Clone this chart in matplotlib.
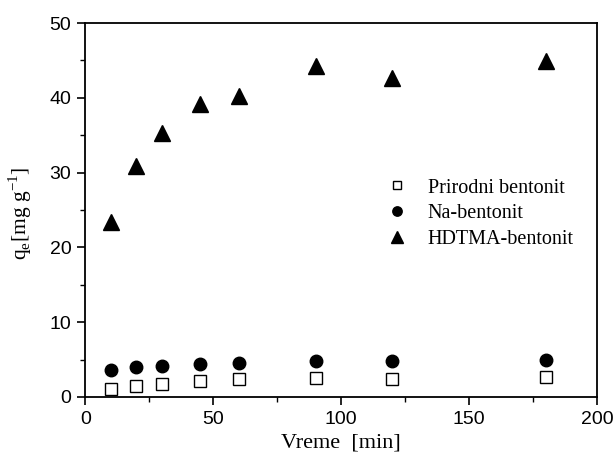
import matplotlib
matplotlib.use("Agg")
import matplotlib.pyplot as plt
from matplotlib.ticker import MultipleLocator

time_min = [10, 20, 30, 45, 60, 90, 120, 180]
prirodni = [1.0, 1.5, 1.7, 2.1, 2.4, 2.5, 2.45, 2.7]
na_bent = [3.65, 4.0, 4.1, 4.4, 4.6, 4.75, 4.85, 4.9]
hdtma = [23.4, 30.9, 35.3, 39.2, 40.3, 44.3, 42.6, 44.9]

serif = "Liberation Serif"
sans = "Liberation Sans"

fig = plt.figure(figsize=(6.13, 4.61), dpi=100)
ax = fig.add_axes([0.139, 0.139, 0.835, 0.811])

ax.plot(time_min, prirodni, linestyle="none", marker="s", markersize=8,
        markerfacecolor="white", markeredgecolor="black", markeredgewidth=1.0,
        label="Prirodni bentonit")
ax.plot(time_min, na_bent, linestyle="none", marker="o", markersize=9,
        color="black", label="Na-bentonit")
ax.plot(time_min, hdtma, linestyle="none", marker="^", markersize=11.5,
        color="black", label="HDTMA-bentonit")

ax.set_xlim(0, 200)
ax.set_ylim(0, 50)
ax.xaxis.set_major_locator(MultipleLocator(50))
ax.xaxis.set_minor_locator(MultipleLocator(25))
ax.yaxis.set_major_locator(MultipleLocator(10))
ax.yaxis.set_minor_locator(MultipleLocator(5))
ax.tick_params(which="major", direction="out", length=6, width=1.2,
               labelsize=14, pad=4)
ax.tick_params(which="minor", direction="out", length=3.5, width=1.0)
for lab in ax.get_xticklabels() + ax.get_yticklabels():
    lab.set_family(sans)
for sp in ax.spines.values():
    sp.set_linewidth(1.3)

ax.set_xlabel("Vreme  [min]", family=serif, fontsize=16, labelpad=4)
ax.set_ylabel(r"q$_\mathregular{e}$[mg g$^\mathregular{-1}$]", family=serif,
              fontsize=15.5)
ax.yaxis.set_label_coords(-0.10, 0.49)

leg = ax.legend(loc="center left", bbox_to_anchor=(0.555, 0.49), frameon=False,
                prop={"family": serif, "size": 14.5}, handletextpad=1.0,
                labelspacing=0.33, markerscale=0.75, handlelength=1.0)

fig.savefig("out.png", dpi=100)
